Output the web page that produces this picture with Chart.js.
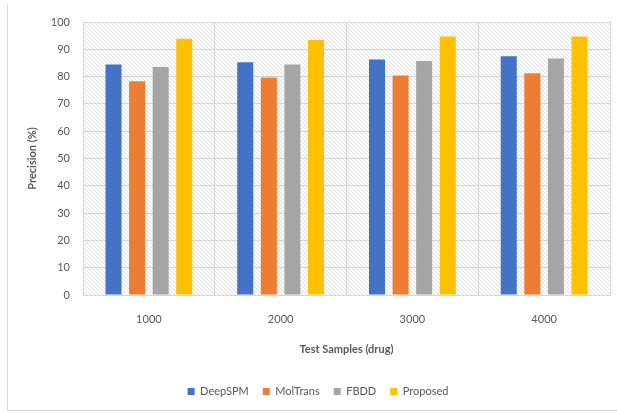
<!DOCTYPE html>
<html>
<head>
<meta charset="utf-8">
<script src="https://cdn.jsdelivr.net/npm/chart.js@4.4.1/dist/chart.umd.min.js"></script>
<style>
  html, body { margin: 0; padding: 0; background: #ffffff; }
  #wrap { width: 617px; height: 413px; }
</style>
</head>
<body>
<div id="wrap"><canvas id="chart" width="617" height="413"></canvas></div>
<script>
// Test sample sizes (categories)
const categories = ['1000', '2000', '3000', '4000'];

// Precision (%) per method
const deepSPM  = [84.4, 85.3, 86.3, 87.5];
const molTrans = [78.3, 79.7, 80.4, 81.2];
const fbdd     = [83.5, 84.4, 85.7, 86.6];
const proposed = [93.9, 93.4, 94.7, 94.7];

const seriesNames = ['DeepSPM', 'MolTrans', 'FBDD', 'Proposed'];
const seriesColors = ['#4472C4', '#ED7D31', '#A5A5A5', '#FFC000'];
const seriesValues = [deepSPM, molTrans, fbdd, proposed];

const yTicks = [0, 10, 20, 30, 40, 50, 60, 70, 80, 90, 100];

const textColor = '#595959';
const gridColor = '#d6d6d6';
const fontFamily = 'Lato, "Open Sans", "Liberation Sans", sans-serif';

// Diagonal hatch used behind the bars
function makeHatch() {
  const c = document.createElement('canvas');
  c.width = 4; c.height = 4;
  const g = c.getContext('2d');
  g.fillStyle = '#ffffff';
  g.fillRect(0, 0, 4, 4);
  g.strokeStyle = '#e2e2e2';
  g.lineWidth = 1;
  g.beginPath();
  g.moveTo(-1, -1); g.lineTo(5, 5);
  g.moveTo(-1, 3); g.lineTo(1, 5);
  g.moveTo(3, -1); g.lineTo(5, 1);
  g.stroke();
  return g.createPattern(c, 'repeat');
}

const backdrop = {
  id: 'backdrop',
  beforeDraw(chart) {
    const { ctx, chartArea: a } = chart;
    ctx.save();
    ctx.fillStyle = makeHatch();
    ctx.fillRect(a.left, a.top, a.right - a.left, a.bottom - a.top);
    // frame of the chart area
    ctx.strokeStyle = '#d9d9d9';
    ctx.lineWidth = 1;
    ctx.beginPath();
    ctx.moveTo(7.5, 5);
    ctx.lineTo(7.5, 410.5);
    ctx.lineTo(617, 410.5);
    ctx.stroke();
    ctx.restore();
  }
};

const datasets = seriesNames.map((name, i) => ({
  label: name,
  data: seriesValues[i],
  backgroundColor: seriesColors[i],
  borderWidth: 0,
  categoryPercentage: 0.716,
  barPercentage: 0.68
}));

new Chart(document.getElementById('chart'), {
  type: 'bar',
  data: { labels: categories, datasets },
  plugins: [backdrop],
  options: {
    responsive: false,
    animation: false,
    devicePixelRatio: 1,
    layout: { padding: { top: 22, right: 7, left: 26, bottom: 6 } },
    plugins: {
      tooltip: { enabled: false },
      legend: {
        position: 'bottom',
        labels: {
          color: textColor,
          font: { family: fontFamily, size: 11 },
          boxWidth: 7,
          boxHeight: 7,
          padding: 14
        }
      }
    },
    scales: {
      x: {
        grid: { color: gridColor, drawTicks: false, offset: true },
        border: { color: gridColor },
        ticks: { color: textColor, font: { family: fontFamily, size: 11 }, padding: 18 },
        title: {
          display: true,
          text: 'Test Samples (drug)',
          color: textColor,
          font: { family: fontFamily, size: 11, weight: 'bold' },
          padding: { top: 0, bottom: 16 }
        },
        afterFit(scale) { scale.height = 77; }
      },
      y: {
        min: 0,
        max: 100,
        afterBuildTicks(scale) { scale.ticks = yTicks.map(v => ({ value: v })); },
        grid: { color: gridColor, drawTicks: false },
        border: { color: gridColor },
        ticks: { color: textColor, font: { family: fontFamily, size: 11 }, padding: 13 },
        title: {
          display: true,
          text: 'Precision (%)',
          color: textColor,
          font: { family: fontFamily, size: 11, weight: 'bold' },
          padding: { top: 0, bottom: 0 }
        },
        afterFit(scale) { scale.width = 57; }
      }
    }
  }
});
</script>
</body>
</html>
